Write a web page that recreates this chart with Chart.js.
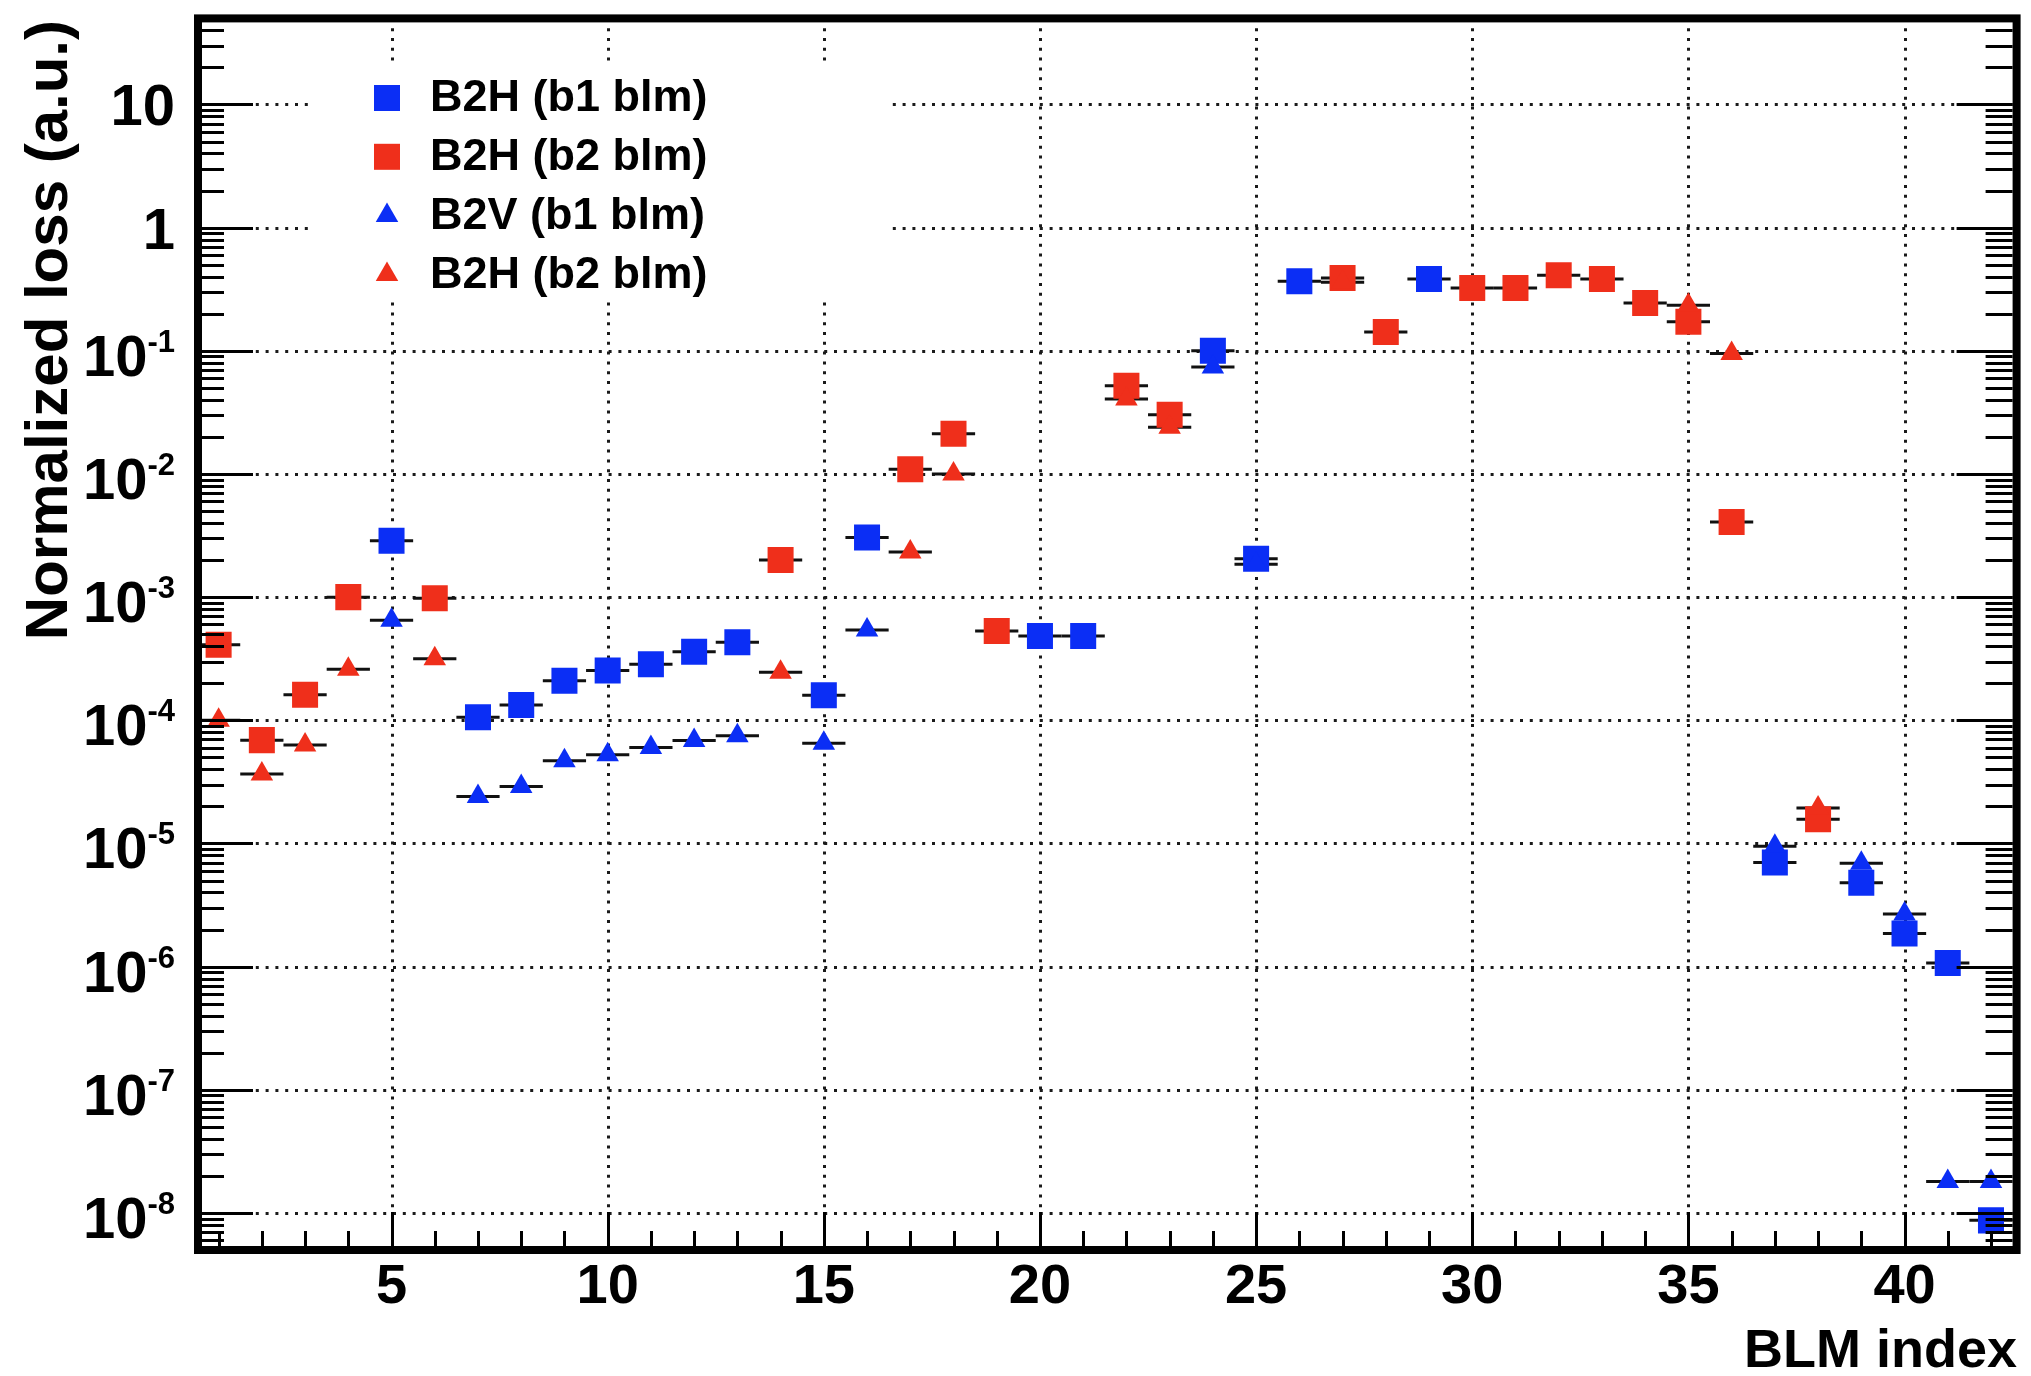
<!DOCTYPE html>
<html lang="en">
<head>
    <meta charset="UTF-8">
    <title>Normalized loss per BLM</title>
    <script src="https://cdn.jsdelivr.net/npm/chart.js@4.4.0/dist/chart.umd.min.js"></script>
    <style>
        html, body {
            margin: 0;
            padding: 0;
            background: #ffffff;
        }
        #wrap {
            width: 2031px;
            height: 1376px;
        }
    </style>
</head>
<body>
    <div id="wrap"><canvas id="lossChart" width="2031" height="1376"></canvas></div>

    <script>
        // BLM index (x) and the four loss series, null = no marker at that BLM
        const blmIndex = [1, 2, 3, 4, 5, 6, 7, 8, 9, 10, 11, 12, 13, 14, 15, 16, 17, 18, 19, 20, 21,
                          22, 23, 24, 25, 26, 27, 28, 29, 30, 31, 32, 33, 34, 35, 36, 37, 38, 39, 40, 41, 42];

        const b2hB1Loss = [null, null, null, null, 2.87e-3, null, 1.06e-4, 1.33e-4, 2.09e-4, 2.54e-4, 2.85e-4,
                           3.6e-4, 4.3e-4, null, 1.6e-4, 3.05e-3, null, null, null, 4.84e-4, 4.84e-4,
                           null, null, 0.10, 2.05e-3, 0.367, null, null, 0.383, null, null,
                           null, null, null, null, null, 7.0e-6, null, 4.8e-6, 1.86e-6, 1.07e-6, 8.7e-9];

        const b2hB2Loss = [4.1e-4, 6.9e-5, 1.61e-4, 1.0e-3, null, 9.8e-4, null, null, null, null, null,
                           null, null, 2.0e-3, null, null, 1.09e-2, 2.12e-2, 5.3e-4, null, null,
                           5.2e-2, 3.03e-2, null, null, null, 0.39, 0.142, null, 0.324, 0.324,
                           0.41, 0.383, 0.244, 0.172, 4.07e-3, null, 1.57e-5, null, null, null, null];

        const b2vB1Loss = [null, null, null, null, 6.5e-4, null, 2.4e-5, 2.9e-5, 4.7e-5, 5.25e-5, 6.0e-5,
                           6.85e-5, 7.5e-5, null, 6.5e-5, 5.4e-4, null, null, null, null, null,
                           null, null, 0.074, 1.85e-3, null, null, null, null, null, null,
                           null, null, null, null, null, 9.5e-6, null, 6.9e-6, 2.67e-6, 1.8e-8, 1.8e-8];

        const b2hB2TriLoss = [1.0e-4, 3.66e-5, 6.3e-5, 2.6e-4, null, 3.16e-4, null, null, null, null, null,
                              null, null, 2.45e-4, null, null, 2.32e-3, 1.0e-2, null, null, null,
                              4.06e-2, 2.4e-2, null, null, null, 0.36, null, null, null, null,
                              null, null, null, 0.234, 0.095, null, 1.94e-5, null, null, null, null];

        const legendLabels = ['B2H (b1 blm)', 'B2H (b2 blm)', 'B2V (b1 blm)', 'B2H (b2 blm)'];

        // axis ticks
        const yTickValues = [1e-8, 1e-7, 1e-6, 1e-5, 1e-4, 1e-3, 1e-2, 1e-1, 1, 10];
        const yTickBases = ['10', '10', '10', '10', '10', '10', '10', '10', '1', '10'];
        const yTickExponents = ['-8', '-7', '-6', '-5', '-4', '-3', '-2', '-1', '', ''];
        const xTickValues = [5, 10, 15, 20, 25, 30, 35, 40];
        const xTickLabels = ['5', '10', '15', '20', '25', '30', '35', '40'];

        const BLUE = '#0b2ef5';
        const RED = '#ef2f1b';
        const FONT = '"Liberation Sans", Arial, Helvetica, sans-serif';

        function toPoints(values) {
            const pts = [];
            values.forEach((v, i) => {
                if (v !== null) pts.push({ x: blmIndex[i], y: v });
            });
            return pts;
        }

        const seriesDefs = [
            { label: legendLabels[0], values: b2hB1Loss, color: BLUE, style: 'rect', radius: 18.4 },
            { label: legendLabels[1], values: b2hB2Loss, color: RED, style: 'rect', radius: 18.4 },
            { label: legendLabels[2], values: b2vB1Loss, color: BLUE, style: 'triangle', radius: 13 },
            { label: legendLabels[3], values: b2hB2TriLoss, color: RED, style: 'triangle', radius: 13 }
        ];

        function drawMarker(ctx, style, r, cx, cy, color) {
            ctx.fillStyle = color;
            ctx.beginPath();
            if (style === 'rect') {
                const h = r * Math.SQRT1_2;
                ctx.rect(cx - h, cy - h, 2 * h, 2 * h);
            } else {
                ctx.moveTo(cx, cy - r);
                ctx.lineTo(cx + 0.866 * r, cy + 0.5 * r);
                ctx.lineTo(cx - 0.866 * r, cy + 0.5 * r);
                ctx.closePath();
            }
            ctx.fill();
        }

        // ROOT-like frame: dotted grid, x error bars, legend, ticks, labels
        const rootStyle = {
            id: 'rootStyle',
            beforeDatasetsDraw(chart) {
                const { ctx, chartArea: a, scales: { x, y } } = chart;
                ctx.save();
                // dotted grid
                ctx.strokeStyle = '#1a1a1a';
                ctx.lineWidth = 3;
                ctx.setLineDash([3, 6.8]);
                xTickValues.forEach(v => {
                    const px = Math.round(x.getPixelForValue(v)) + 0.5;
                    ctx.beginPath();
                    ctx.moveTo(px, a.top);
                    ctx.lineTo(px, a.bottom);
                    ctx.stroke();
                });
                yTickValues.forEach(v => {
                    const py = Math.round(y.getPixelForValue(v)) + 0.5;
                    ctx.beginPath();
                    ctx.moveTo(a.left, py);
                    ctx.lineTo(a.right, py);
                    ctx.stroke();
                });
                ctx.setLineDash([]);

                // white legend box hides the grid behind it
                ctx.fillStyle = '#ffffff';
                ctx.fillRect(314, 67, 578, 231);

                // horizontal error bars (+-0.5 bin)
                ctx.strokeStyle = '#111111';
                ctx.lineWidth = 3;
                chart.data.datasets.forEach(ds => {
                    ds.data.forEach(p => {
                        const py = y.getPixelForValue(p.y);
                        ctx.beginPath();
                        ctx.moveTo(x.getPixelForValue(p.x - 0.5), py);
                        ctx.lineTo(x.getPixelForValue(p.x + 0.5), py);
                        ctx.stroke();
                    });
                });
                ctx.restore();
            },
            afterDatasetsDraw(chart) {
                const { ctx, chartArea: a, scales: { x, y } } = chart;
                ctx.save();

                // legend
                seriesDefs.forEach((s, i) => {
                    const cy = 98 + i * 58.8;
                    drawMarker(ctx, s.style, s.radius, 387, cy, s.color);
                    ctx.fillStyle = '#000000';
                    ctx.font = 'bold 45px ' + FONT;
                    ctx.textAlign = 'left';
                    ctx.textBaseline = 'middle';
                    ctx.fillText(s.label, 430, cy + 1);
                });

                // ticks
                ctx.strokeStyle = '#000000';
                ctx.lineWidth = 3;
                const yMin = y.min, yMax = y.max;
                for (let e = -9; e <= 1; e++) {
                    for (let m = 1; m <= 9; m++) {
                        const v = m * Math.pow(10, e);
                        if (v < yMin || v > yMax) continue;
                        const py = Math.round(y.getPixelForValue(v)) + 0.5;
                        const len = m === 1 ? 56 : 27;
                        ctx.beginPath();
                        ctx.moveTo(a.left, py);
                        ctx.lineTo(a.left + len, py);
                        ctx.moveTo(a.right, py);
                        ctx.lineTo(a.right - len, py);
                        ctx.stroke();
                    }
                }
                blmIndex.forEach(v => {
                    const px = Math.round(x.getPixelForValue(v)) + 0.5;
                    const len = v % 5 === 0 ? 38 : 19;
                    ctx.beginPath();
                    ctx.moveTo(px, a.bottom);
                    ctx.lineTo(px, a.bottom - len);
                    ctx.stroke();
                });

                // frame
                ctx.lineWidth = 8;
                ctx.strokeRect(a.left + 1, a.top, a.right - a.left + 3, a.bottom - a.top);
                ctx.restore();
            },
            afterDraw(chart) {
                const { ctx, chartArea: a, scales: { x, y } } = chart;
                ctx.save();
                ctx.fillStyle = '#000000';

                // y tick labels with superscript exponents
                const rightEdge = 175;
                yTickValues.forEach((v, i) => {
                    const py = y.getPixelForValue(v);
                    const exp = yTickExponents[i];
                    ctx.textAlign = 'right';
                    ctx.textBaseline = 'alphabetic';
                    if (exp) {
                        ctx.font = 'bold 31px ' + FONT;
                        const w = ctx.measureText(exp).width;
                        ctx.fillText(exp, rightEdge, py + 1);
                        ctx.font = 'bold 58px ' + FONT;
                        ctx.fillText(yTickBases[i], rightEdge - w, py + 25);
                    } else {
                        ctx.font = 'bold 58px ' + FONT;
                        ctx.fillText(yTickBases[i], rightEdge, py + 21);
                    }
                });

                // x tick labels
                ctx.font = 'bold 56px ' + FONT;
                ctx.textAlign = 'center';
                xTickValues.forEach((v, i) => {
                    ctx.fillText(xTickLabels[i], x.getPixelForValue(v), 1303);
                });

                // axis titles
                ctx.font = 'bold 54px ' + FONT;
                ctx.textAlign = 'right';
                ctx.fillText('BLM index', 2017, 1367);

                ctx.translate(67, 20);
                ctx.rotate(-Math.PI / 2);
                ctx.font = 'bold 60px ' + FONT;
                ctx.textAlign = 'right';
                ctx.fillText('Normalized loss (a.u.)', 0, 0);
                ctx.restore();
            }
        };

        const datasets = seriesDefs.map((s, i) => ({
            label: s.label,
            data: toPoints(s.values),
            pointStyle: s.style,
            pointRadius: s.radius,
            pointHoverRadius: s.radius,
            backgroundColor: s.color,
            borderColor: s.color,
            borderWidth: 0,
            showLine: false,
            order: 4 - i
        }));

        new Chart(document.getElementById('lossChart'), {
            type: 'scatter',
            data: { datasets: datasets },
            options: {
                responsive: false,
                animation: false,
                layout: { padding: { left: 197, right: 11, top: 16, bottom: 126 } },
                plugins: {
                    legend: { display: false },
                    tooltip: { enabled: false }
                },
                scales: {
                    x: { type: 'linear', min: 0.5, max: 42.5, display: false },
                    y: { type: 'logarithmic', min: 5e-9, max: 50, display: false }
                }
            },
            plugins: [rootStyle]
        });
    </script>
</body>
</html>
